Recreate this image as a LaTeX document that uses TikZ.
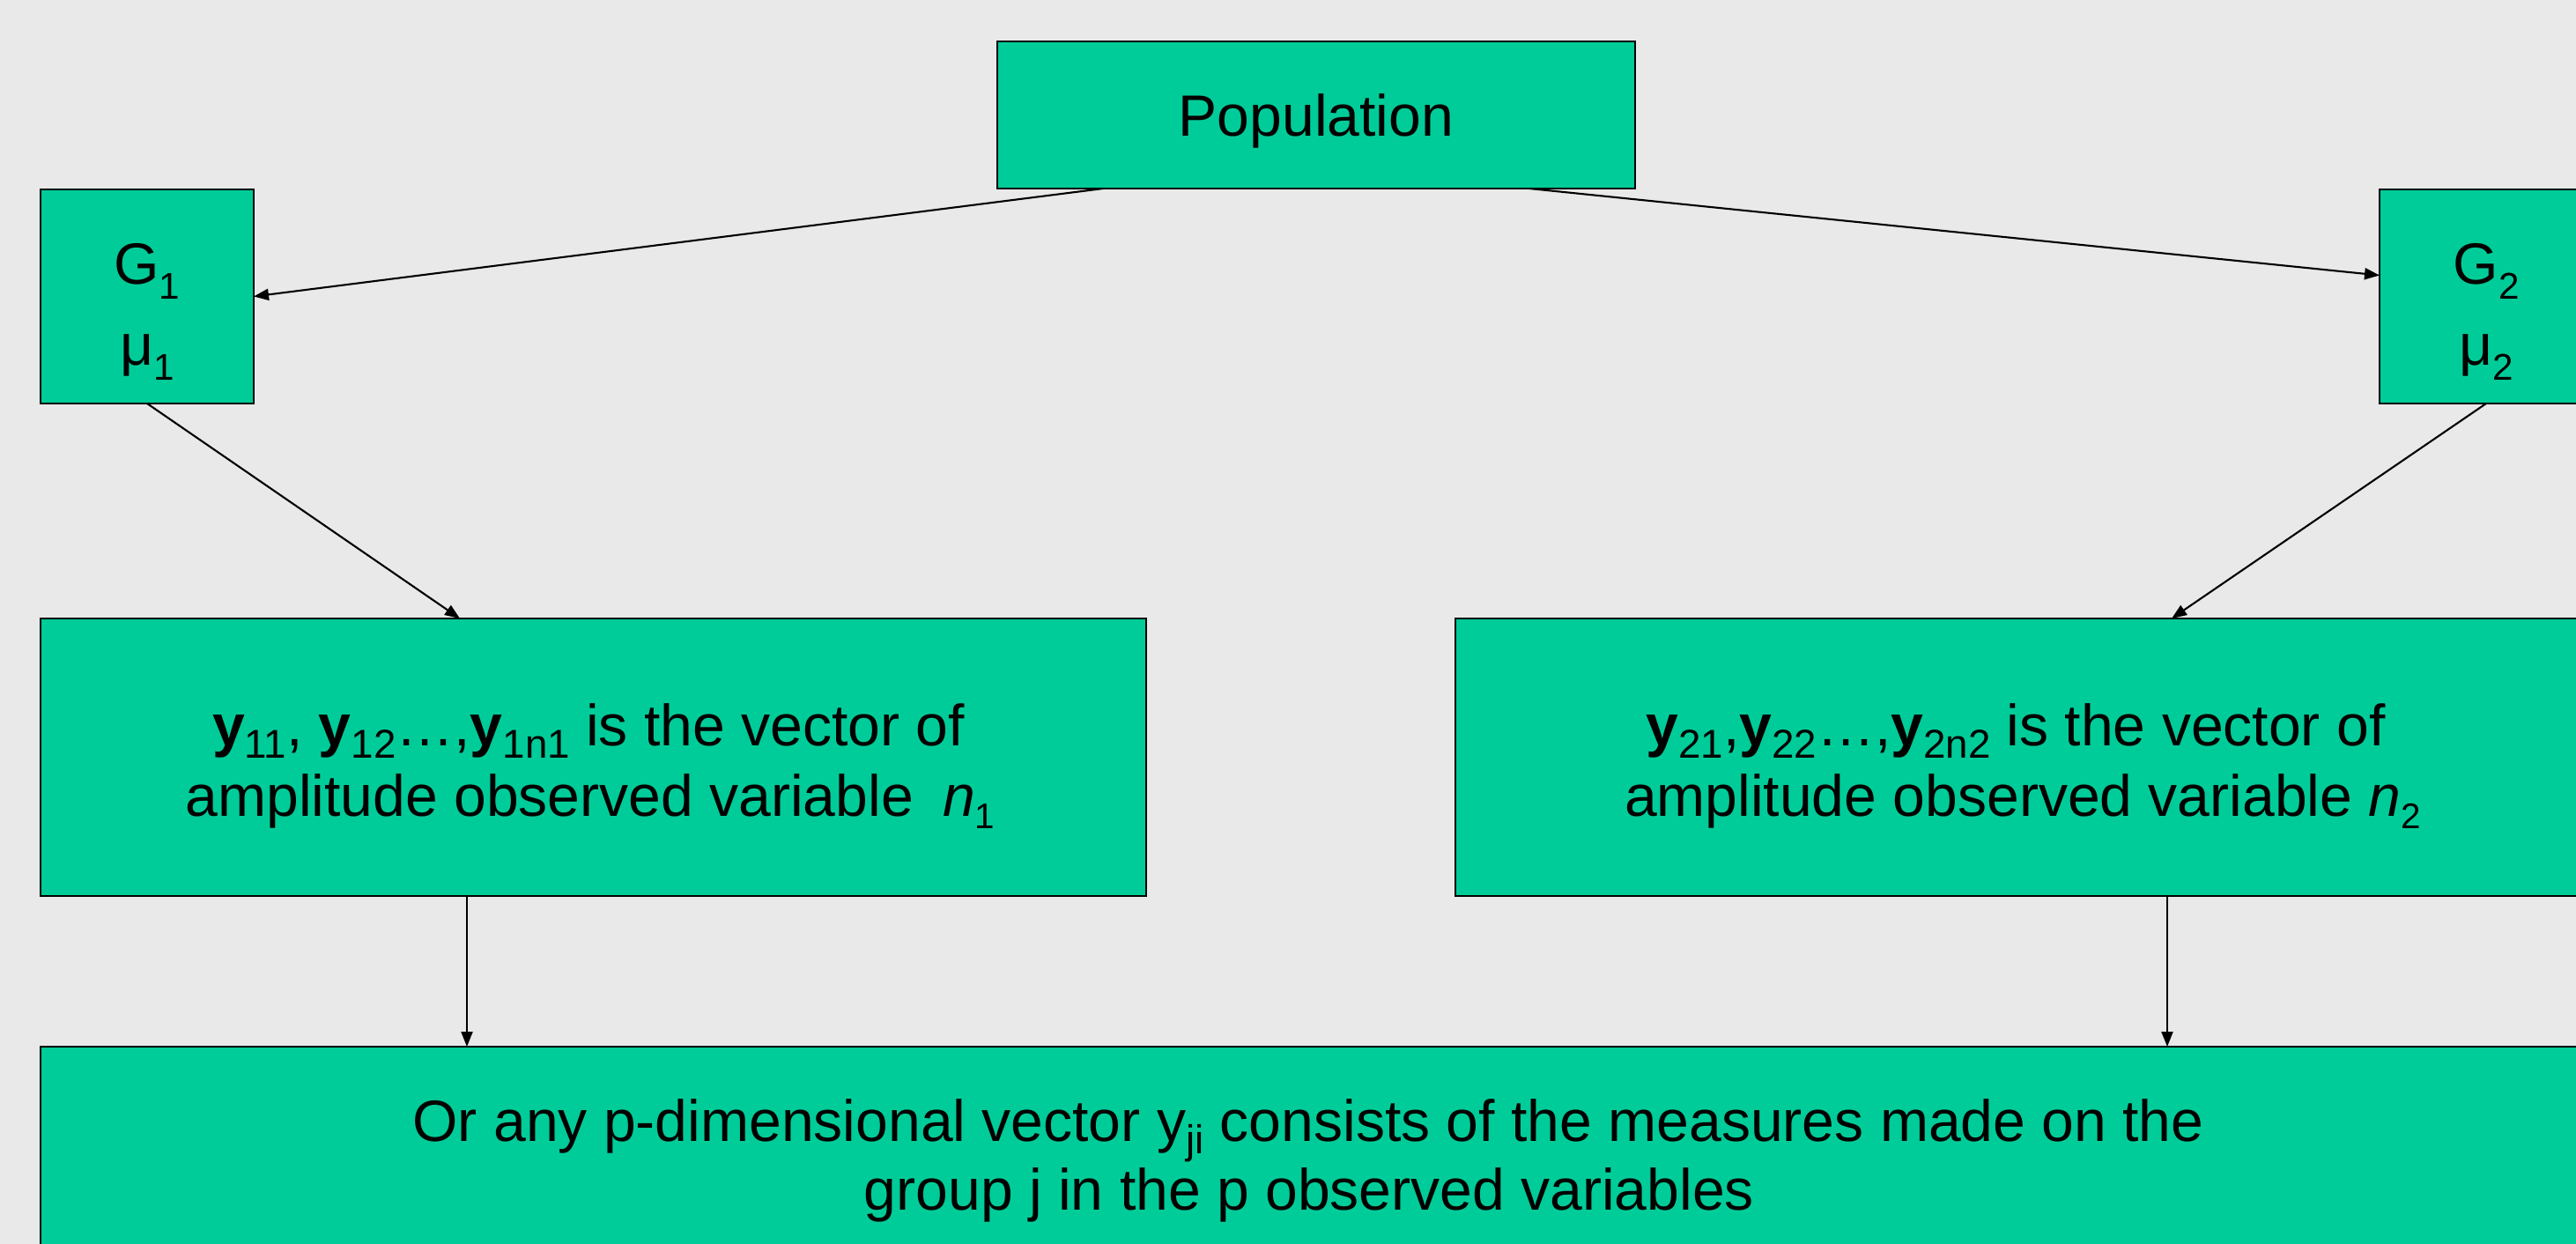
\documentclass[tikz,border=0pt]{standalone}
\usepackage{fontspec}
\setmainfont{Liberation Sans}
\usetikzlibrary{arrows.meta,calc}
\definecolor{boxgreen}{HTML}{00CC99}
\definecolor{bggrey}{HTML}{E9E9E9}
\newcommand\sbs[1]{\raisebox{-0.22em}{\fontsize{13pt}{13pt}\selectfont #1}}
\newcommand\sbn[1]{\raisebox{-0.22em}{\fontsize{11.5pt}{11.5pt}\selectfont #1}}
\newcommand\sbg[1]{\raisebox{-0.25em}{\fontsize{12pt}{12pt}\selectfont #1}}
\begin{document}
\begin{tikzpicture}[
  box/.style={draw=black, line width=0.6pt, fill=boxgreen, inner sep=0pt, outer sep=0pt},
  txt/.style={font=\fontsize{18.8pt}{22.8pt}\selectfont, inner sep=0pt, anchor=base},
  arr/.style={line width=0.6pt, -{Triangle[length=0.17cm,width=0.13cm]}},
]
\useasboundingbox (0,0) rectangle (29.24,-14.12);
\clip (0,0) rectangle (29.24,-14.12);
\fill[bggrey] (0,0) rectangle (29.24,-14.12);

% boxes
\node[box, minimum width=7.24cm, minimum height=1.67cm] (pop) at (14.94,-1.305) {};
\node[box, minimum width=2.42cm, minimum height=2.43cm] (g1) at (1.67,-3.365) {};
\node[box, minimum width=2.42cm, minimum height=2.43cm] (g2) at (28.22,-3.365) {};
\node[box, minimum width=12.55cm, minimum height=3.15cm] (m1) at (6.735,-8.595) {};
\node[box, minimum width=12.74cm, minimum height=3.15cm] (m2) at (22.89,-8.595) {};
\node[box, minimum width=28.84cm, minimum height=2.40cm] (b) at (14.88,-13.08) {};

% texts
\node[txt] (tpop) at (14.94,-1.55) {Population};
\node[txt] (tg1) at (1.67,-3.23) {G\sbg{1}};
\node[txt] (tmu1) at (1.67,-4.15) {μ\sbg{1}};
\node[txt] (tg2) at (28.22,-3.23) {G\sbg{2}};
\node[txt] (tmu2) at (28.22,-4.15) {μ\sbg{2}};
\node[txt] (m1a) at (6.68,-8.46) {\textbf{y}\sbs{11}, \textbf{y}\sbs{12}…,\textbf{y}\sbs{1n1} is the vector of};
\node[txt] (m1b) at (6.70,-9.26) {amplitude observed variable\enspace\textit{n}\sbn{1}};
\node[txt] (m2a) at (22.88,-8.46) {\textbf{y}\sbs{21},\textbf{y}\sbs{22}…,\textbf{y}\sbs{2n2} is the vector of};
\node[txt] (m2b) at (22.96,-9.26) {amplitude observed variable \textit{n}\sbn{2}};
\node[txt] (ba) at (14.85,-12.95) {Or any p-dimensional vector y\sbs{ji} consists of the measures made on the};
\node[txt] (bb) at (14.86,-13.73) {group j in the p observed variables};

% connectors
\coordinate (v1) at (5.30,0);
\coordinate (v2) at (24.60,0);
\draw[arr] ($(pop.south west)!0.166!(pop.south east)$) -- (g1.east);
\draw[arr] ($(pop.south west)!0.834!(pop.south east)$) -- ($(g2.west)+(0,0.24)$);
\draw[arr] (g1.south) -- ($(m1.north west)!(5.22,0)!(m1.north east)$);
\draw[arr] (g2.south) -- ($(m2.north west)!(24.65,0)!(m2.north east)$);
\draw[arr] (m1.south -| v1) -- (b.north -| v1);
\draw[arr] (m2.south -| v2) -- (b.north -| v2);
\end{tikzpicture}
\end{document}
